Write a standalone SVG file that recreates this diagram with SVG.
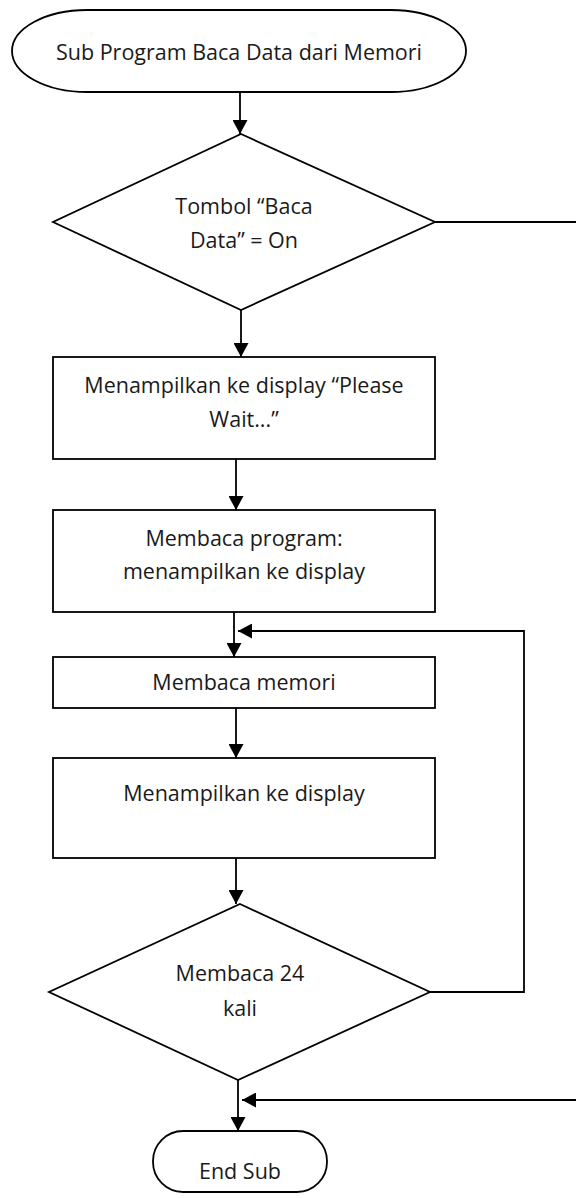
<svg xmlns="http://www.w3.org/2000/svg" width="576" height="1199" viewBox="0 0 576 1199">
<style>
.s{fill:#fff;stroke:#000;stroke-width:1.8}
.c{fill:none;stroke:#000;stroke-width:1.8}
text{font-family:"Open Sans","Liberation Sans",sans-serif;font-size:21.5px;fill:#1a1a1a;text-anchor:middle}
</style>
<defs>
<marker id="a" markerWidth="14" markerHeight="15" viewBox="0 0 14 15" refX="14" refY="7.5" orient="auto" markerUnits="userSpaceOnUse">
<path d="M0,0 L14,7.5 L0,15 Z" fill="#000"/>
</marker>
</defs>
<rect width="576" height="1199" fill="#fff"/>
<g id="connectors">
<line class="c" x1="240" y1="92" x2="240" y2="134" marker-end="url(#a)"/>
<line class="c" x1="435" y1="222" x2="576" y2="222"/>
<line class="c" x1="241" y1="310" x2="241" y2="357" marker-end="url(#a)"/>
<line class="c" x1="236" y1="459" x2="236" y2="510" marker-end="url(#a)"/>
<line class="c" x1="234" y1="612" x2="234" y2="657" marker-end="url(#a)"/>
<polyline class="c" points="430,992 524,992 524,631 238,631" marker-end="url(#a)"/>
<line class="c" x1="236" y1="708" x2="236" y2="758" marker-end="url(#a)"/>
<line class="c" x1="236" y1="858" x2="236" y2="904" marker-end="url(#a)"/>
<line class="c" x1="238" y1="1080" x2="238" y2="1131" marker-end="url(#a)"/>
<line class="c" x1="576" y1="1100" x2="242" y2="1100" marker-end="url(#a)"/>
</g>
<g id="start">
<rect class="s" x="12" y="10" width="454" height="82" rx="75" ry="41"/>
<text x="239" y="60">Sub Program Baca Data dari Memori</text>
</g>
<g id="decision1">
<polygon class="s" points="241,134 435,222 241,310 53,222"/>
<text x="244" y="214">Tombol “Baca</text>
<text x="244" y="248">Data” = On</text>
</g>
<g id="display-wait">
<rect class="s" x="53" y="357" width="382" height="102"/>
<text x="244" y="393">Menampilkan ke display “Please</text>
<text x="244" y="427">Wait...”</text>
</g>
<g id="read-program">
<rect class="s" x="53" y="510" width="382" height="102"/>
<text x="244" y="546">Membaca program:</text>
<text x="244" y="579">menampilkan ke display</text>
</g>
<g id="read-memory">
<rect class="s" x="53" y="657" width="382" height="51"/>
<text x="244" y="690">Membaca memori</text>
</g>
<g id="display">
<rect class="s" x="53" y="758" width="382" height="100"/>
<text x="244" y="801">Menampilkan ke display</text>
</g>
<g id="decision2">
<polygon class="s" points="240,904 430,992 238,1080 49,992"/>
<text x="240" y="981">Membaca 24</text>
<text x="240" y="1016">kali</text>
</g>
<g id="end">
<rect class="s" x="153" y="1131" width="174" height="61" rx="30" ry="30"/>
<text x="240" y="1179">End Sub</text>
</g>
</svg>
